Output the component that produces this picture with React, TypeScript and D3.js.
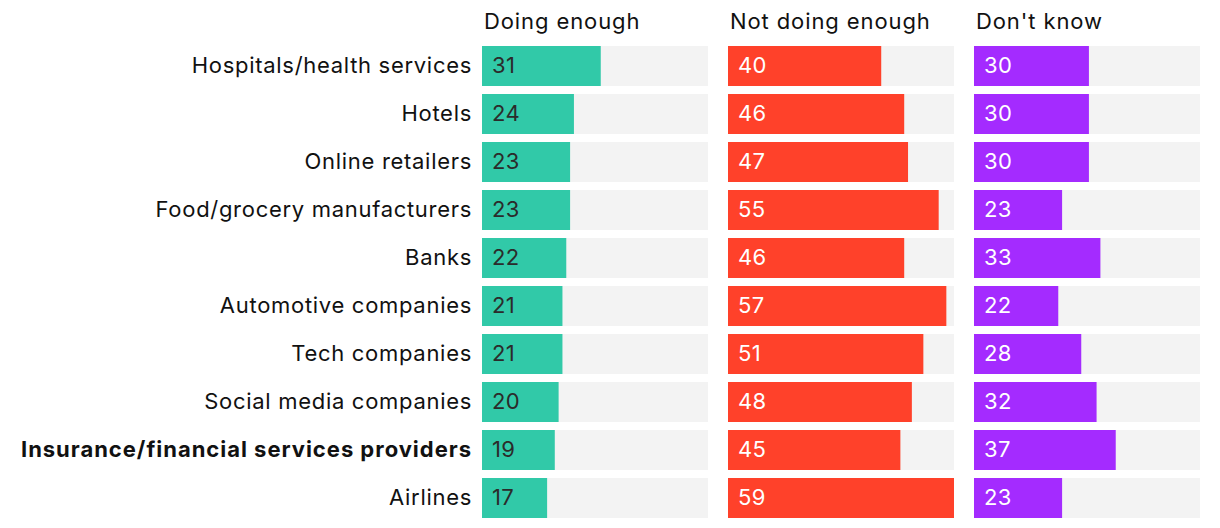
import * as d3 from "d3";

const categories = [
  "Hospitals/health services",
  "Hotels",
  "Online retailers",
  "Food/grocery manufacturers",
  "Banks",
  "Automotive companies",
  "Tech companies",
  "Social media companies",
  "Insurance/financial services providers",
  "Airlines",
];

const seriesNames = ["Doing enough", "Not doing enough", "Don't know"];

const doingEnough = [31, 24, 23, 23, 22, 21, 21, 20, 19, 17];
const notDoingEnough = [40, 46, 47, 55, 46, 57, 51, 48, 45, 59];
const dontKnow = [30, 30, 30, 23, 33, 22, 28, 32, 37, 23];

const highlighted = "Insurance/financial services providers";

const W = 1220;
const H = 528;
const FONT = "Inter, 'Noto Sans', sans-serif";

const series = [
  { name: seriesNames[0], values: doingEnough, color: "#31C9A8", text: "#2b2b2b" },
  { name: seriesNames[1], values: notDoingEnough, color: "#FF412A", text: "#ffffff" },
  { name: seriesNames[2], values: dontKnow, color: "#A42BFF", text: "#ffffff" },
];

export default function App() {
  const y = d3
    .scaleBand<string>()
    .domain(categories)
    .range([46, 518])
    .paddingInner(1 / 6)
    .paddingOuter(0);

  const panel = d3
    .scaleBand<string>()
    .domain(seriesNames)
    .range([482, 1200])
    .paddingInner(20 / 246)
    .paddingOuter(0);

  const x = d3.scaleLinear().domain([0, 59]).range([0, panel.bandwidth()]);

  return (
    <svg
      width={W}
      height={H}
      style={{ position: "absolute", left: 0, top: 0, background: "#fff" }}
      fontFamily={FONT}
    >
      {categories.map((c) => (
        <text
          key={c}
          x={472}
          y={y(c)! + y.bandwidth() / 2}
          dy="0.32em"
          textAnchor="end"
          fontSize={22}
          letterSpacing={c === highlighted ? 0.98 : 0.7}
          fontWeight={c === highlighted ? 700 : 400}
          fill="#111"
        >
          {c}
        </text>
      ))}
      {series.map((s) => {
        const px = panel(s.name)!;
        return (
          <g key={s.name} transform={`translate(${px},0)`}>
            <text x={2} y={29} fontSize={22} letterSpacing={0.9} fill="#111">
              {s.name}
            </text>
            {categories.map((c, i) => (
              <g key={c} transform={`translate(0,${y(c)})`}>
                <rect width={panel.bandwidth()} height={y.bandwidth()} fill="#F3F3F3" />
                <rect width={x(s.values[i])} height={y.bandwidth()} fill={s.color} />
                <text
                  x={10}
                  y={y.bandwidth() / 2}
                  dy="0.32em"
                  fontSize={22}
                  letterSpacing={0.4}
                  fill={s.text}
                >
                  {s.values[i]}
                </text>
              </g>
            ))}
          </g>
        );
      })}
    </svg>
  );
}
